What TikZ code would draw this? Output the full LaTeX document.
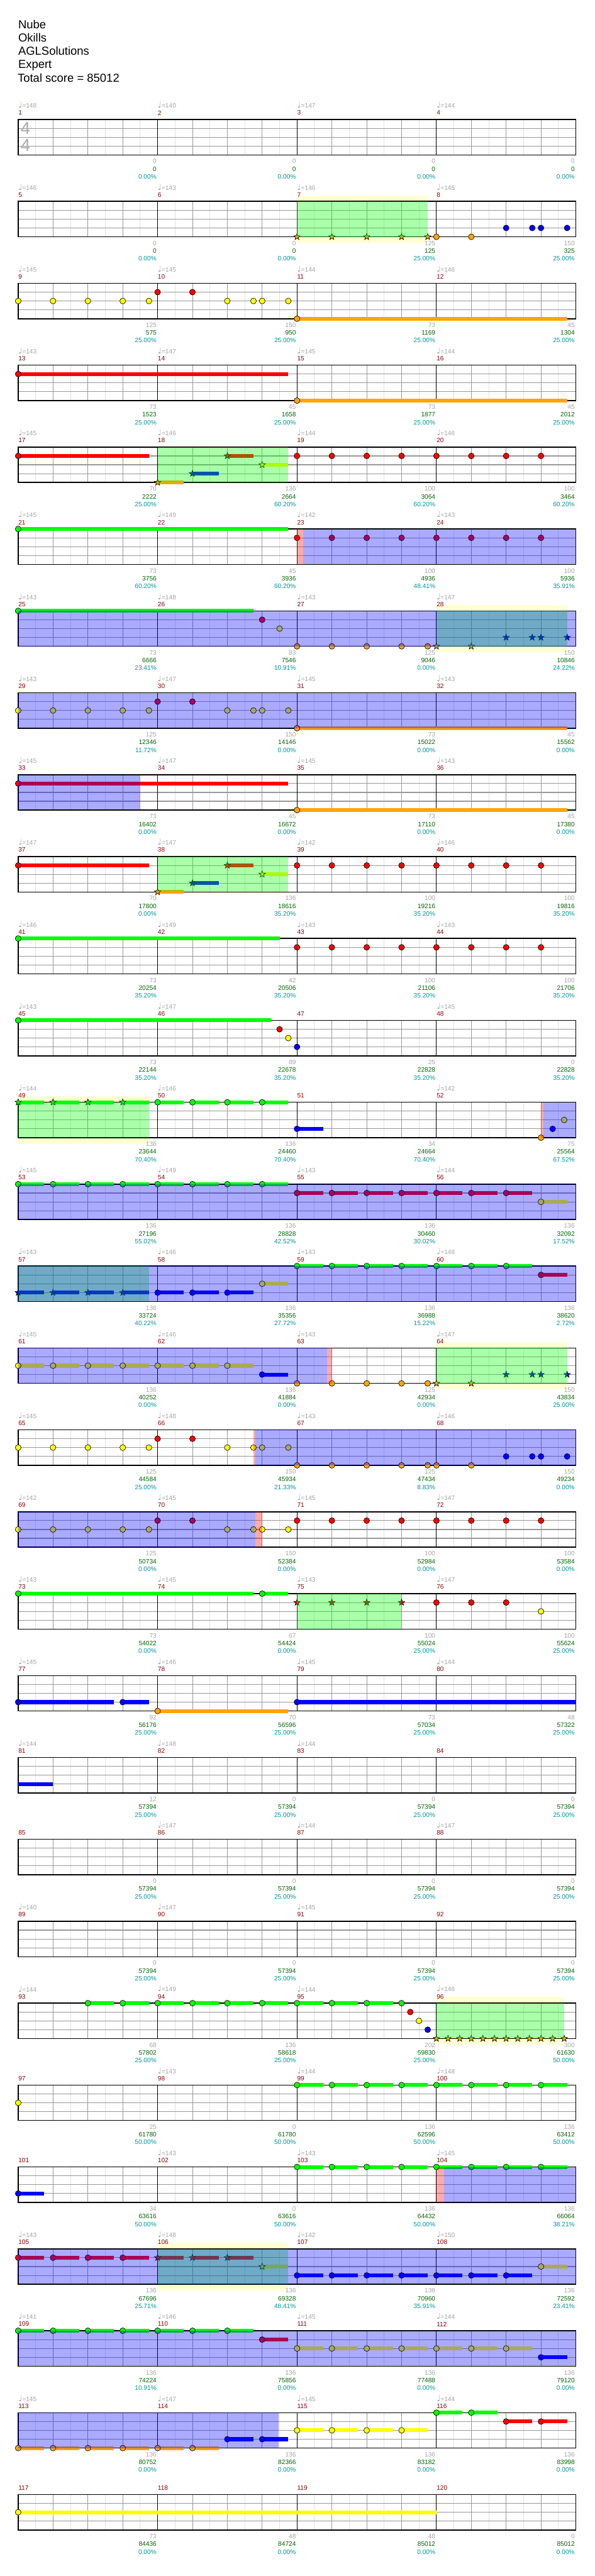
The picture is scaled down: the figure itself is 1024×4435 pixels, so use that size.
\documentclass[tikz,border=0pt]{standalone}
\usepackage{fontspec}
\setmainfont{Liberation Sans}
\newfontfamily\notefont{DejaVu Sans}
\usepackage{tikz}
\usetikzlibrary{calc}
\definecolor{lane0}{RGB}{0,255,0}
\definecolor{lane1}{RGB}{255,0,0}
\definecolor{lane2}{RGB}{255,255,0}
\definecolor{lane3}{RGB}{0,0,255}
\definecolor{lane4}{RGB}{255,165,0}
\definecolor{barred}{RGB}{140,0,0}
\definecolor{tempogrey}{RGB}{165,165,165}
\definecolor{scoregreen}{RGB}{0,100,0}
\definecolor{pctteal}{RGB}{0,150,150}
\definecolor{bandyellow}{RGB}{255,255,210}
\definecolor{finegrey}{RGB}{225,225,225}
\definecolor{midgrey}{RGB}{153,153,153}

\newcommand{\ex}[1]{31.3+30*(#1)}
\newcommand{\ny}[1]{15.25*(#1)}
\newcommand{\staff}[3]{%
  \fill[white] (31.3,0) rectangle (991.5,61);
  \foreach \i in {1,...,31}
    \draw[finegrey, line width=0.5] ({\ex{\i}},0) -- ({\ex{\i}},61);
  \foreach \k in {1,2,3}
    \draw[midgrey, line width=0.6] (31.3,{\ny{\k}}) -- (991.5,{\ny{\k}});
  \foreach \i in {2,4,...,30}
    \draw[midgrey, line width=0.5] ({\ex{\i}},0) -- ({\ex{\i}},61);
  \foreach \i in {8,16,24}
    \draw[black, line width=0.5] ({\ex{\i}},0) -- ({\ex{\i}},61);
  \draw[black, line width=0.8] (31.3,0) rectangle (991.5,61);
  \foreach \bpm [count=\mi from 0] in {#2} {
    \pgfmathtruncatemacro\mnum{4*(#1-1)+\mi+1}
    \node[barno] (bn-#1-\mi) at ({\ex{8*\mi}},-11.4) {\mnum};
    \ifnum\bpm>0
      \node[tempo] (tp-#1-\mi) at ({\ex{8*\mi}},-24.7) {{\notefont\fontsize{7}{7}\selectfont\char"2669}=\bpm};
    \fi
  }
  \foreach \gr/\sc/\pc [count=\mi] in {#3} {
    \node[hits] (gr-#1-\mi) at ({\ex{8*\mi}-1.5},72) {\gr};
    \node[total] (sc-#1-\mi) at ({\ex{8*\mi}-1.5},85.3) {\sc};
    \node[pct] (pc-#1-\mi) at ({\ex{8*\mi}-1.5},98.6) {\pc};
  }%
}
\newcommand{\nt}[2]{\filldraw[note, fill=lane#1] ({\ex{#2}},{\ny{#1}}) circle[radius=5];}
\newcommand{\st}[2]{\filldraw[note, fill=lane#1] plot[variable=\j, samples at={0,...,9}]
  ({\ex{#2}+(5.8-3.4*mod(\j,2))*cos(90+36*\j)},{\ny{#1}-(5.8-3.4*mod(\j,2))*sin(90+36*\j)}) -- cycle;}
\newcommand{\tail}[3]{\fill[lane#1] ({\ex{#2}},{\ny{#1}-3.3}) rectangle ({\ex{#3}},{\ny{#1}+3.3});}
\newcommand{\sus}[3]{\tail{#1}{#2}{#3}\nt{#1}{#2}}
\newcommand{\sst}[3]{\tail{#1}{#2}{#3}\st{#1}{#2}}
\newcommand{\band}[2]{\fill[bandyellow] ({\ex{#1}},-10.5) rectangle ({\ex{#2}},71.5);}
\newcommand{\spow}[2]{\fill[lane0, opacity=0.333] ({\ex{#1}},0) rectangle ({\ex{#2}},61);}
\newcommand{\act}[2]{\fill[lane3, opacity=0.333] ({\ex{#1}},0) rectangle ({\ex{#2}},61);}
\newcommand{\hit}[2]{\fill[lane1, opacity=0.333] ({\ex{#1}},0) rectangle ({\ex{#2}},61);}

\begin{document}
\begin{tikzpicture}[x=0.5pt, y=-0.5pt,
    sysrow/.style={shift={(0,{205.7+141*(#1-1)})}},
    head/.style={anchor=base west, inner sep=0, font=\fontsize{10}{12}\selectfont},
    small/.style={inner sep=0, font=\fontsize{5.5}{6}\selectfont},
    barno/.style={small, anchor=west, text=barred},
    tempo/.style={small, anchor=west, text=tempogrey},
    hits/.style={small, anchor=east, text=tempogrey},
    total/.style={small, anchor=east, text=scoregreen},
    pct/.style={small, anchor=east, text=pctteal},
    note/.style={draw=black, line width=0.35},
    timesig/.style={inner sep=0, text=black!33, font=\fontsize{15}{15}\selectfont}
  ]
  \useasboundingbox (0,0) rectangle (1024,4435);
  \node[head] (song) at (31,49) {Nube};
  \node[head] (artist) at (31,72) {Okills};
  \node[head] (charter) at (31,95) {AGLSolutions};
  \node[head] (level) at (31,118) {Expert};
  \node[head] (score) at (30,141) {Total score = 85012};

  \begin{scope}[sysrow=1]
    \staff{1}{148,140,147,144}{0/0/0.00\%,0/0/0.00\%,0/0/0.00\%,0/0/0.00\%}
    \node[timesig] (ts-up) at (44,15.5) {4};
    \node[timesig] (ts-lo) at (44,44.5) {4};
  \end{scope}

  \begin{scope}[sysrow=2]
    \band{16}{23.5}
    \staff{2}{146,143,146,145}{0/0/0.00\%,0/0/0.00\%,125/125/25.00\%,150/325/25.00\%}
    \foreach \e in {16,18,20,22,23.5} {\st{4}{\e}}
    \nt{4}{24}\nt{4}{26}
    \foreach \e in {28,29.5,30,31.5} {\nt{3}{\e}}
    \spow{16}{23.5}
  \end{scope}

  \begin{scope}[sysrow=3]
    \staff{3}{145,145,144,146}{125/575/25.00\%,150/950/25.00\%,73/1169/25.00\%,45/1304/25.00\%}
    \foreach \e in {0,2,4,6,7.5,12,13.5,14,15.5} {\nt{2}{\e}}
    \nt{1}{8}\nt{1}{10}
    \sus{4}{16}{31.5}
  \end{scope}

  \begin{scope}[sysrow=4]
    \staff{4}{143,147,145,144}{73/1523/25.00\%,45/1658/25.00\%,73/1877/25.00\%,45/2012/25.00\%}
    \sus{1}{0}{15.5}
    \sus{4}{16}{31.5}
  \end{scope}

  \begin{scope}[sysrow=5]
    \staff{5}{145,146,144,146}{70/2222/25.00\%,136/2664/60.20\%,100/3064/60.20\%,100/3464/60.20\%}
    \sus{1}{0}{7.5}
    \sst{1}{12}{13.5}\sst{2}{14}{15.5}\sst{3}{10}{11.5}\sst{4}{8}{9.5}
    \foreach \e in {16,18,...,30} {\nt{1}{\e}}
    \spow{8}{15.5}
  \end{scope}

  \begin{scope}[sysrow=6]
    \staff{6}{145,149,142,143}{73/3756/60.20\%,45/3936/60.20\%,100/4936/48.41\%,100/5936/35.91\%}
    \sus{0}{0}{15.5}
    \foreach \e in {16,18,...,30} {\nt{1}{\e}}
    \hit{16}{16.37}\act{16.37}{32}
  \end{scope}

  \begin{scope}[sysrow=7]
    \band{24}{31.5}
    \staff{7}{143,148,143,147}{73/6666/23.41\%,83/7546/10.91\%,125/9046/0.00\%,150/10846/24.22\%}
    \sus{0}{0}{13.5}
    \nt{1}{14}\nt{2}{15}
    \foreach \e in {16,18,20,22,23.5} {\nt{4}{\e}}
    \st{4}{24}\st{4}{26}
    \foreach \e in {28,29.5,30,31.5} {\st{3}{\e}}
    \spow{24}{31.5}\act{0}{32}
  \end{scope}

  \begin{scope}[sysrow=8]
    \staff{8}{143,147,145,143}{125/12346/11.72\%,150/14146/0.00\%,73/15022/0.00\%,45/15562/0.00\%}
    \foreach \e in {0,2,4,6,7.5,12,13.5,14,15.5} {\nt{2}{\e}}
    \nt{1}{8}\nt{1}{10}
    \sus{4}{16}{31.5}
    \act{0}{32}
  \end{scope}

  \begin{scope}[sysrow=9]
    \staff{9}{145,147,145,143}{73/16402/0.00\%,45/16672/0.00\%,73/17110/0.00\%,45/17380/0.00\%}
    \sus{1}{0}{15.5}
    \sus{4}{16}{31.5}
    \act{0}{7}
  \end{scope}

  \begin{scope}[sysrow=10]
    \staff{10}{147,147,142,146}{70/17800/0.00\%,136/18616/35.20\%,100/19216/35.20\%,100/19816/35.20\%}
    \sus{1}{0}{7.5}
    \sst{1}{12}{13.5}\sst{2}{14}{15.5}\sst{3}{10}{11.5}\sst{4}{8}{9.5}
    \foreach \e in {16,18,...,30} {\nt{1}{\e}}
    \spow{8}{15.5}
  \end{scope}

  \begin{scope}[sysrow=11]
    \staff{11}{146,149,143,143}{73/20254/35.20\%,42/20506/35.20\%,100/21106/35.20\%,100/21706/35.20\%}
    \sus{0}{0}{15}
    \foreach \e in {16,18,...,30} {\nt{1}{\e}}
  \end{scope}

  \begin{scope}[sysrow=12]
    \staff{12}{143,147,0,145}{73/22144/35.20\%,89/22678/35.20\%,25/22828/35.20\%,0/22828/35.20\%}
    \sus{0}{0}{14.5}
    \nt{1}{15}\nt{2}{15.5}\nt{3}{16}
  \end{scope}

  \begin{scope}[sysrow=13]
    \band{0}{7.5}
    \staff{13}{144,146,0,142}{136/23644/70.40\%,136/24460/70.40\%,34/24664/70.40\%,75/25564/67.52\%}
    \foreach \e in {0,2,4,6} {\sst{0}{\e}{\e+1.5}}
    \foreach \e in {8,10,12,14} {\sus{0}{\e}{\e+1.5}}
    \sus{3}{16}{17.5}
    \nt{4}{30}\nt{3}{30.67}\nt{2}{31.33}
    \spow{0}{7.5}\hit{30}{30.15}\act{30.15}{32}
  \end{scope}

  \begin{scope}[sysrow=14]
    \staff{14}{145,149,143,144}{136/27196/55.02\%,136/28828/42.52\%,136/30460/30.02\%,136/32092/17.52\%}
    \foreach \e in {0,2,...,14} {\sus{0}{\e}{\e+1.5}}
    \foreach \e in {16,18,...,28} {\sus{1}{\e}{\e+1.5}}
    \sus{2}{30}{31.5}
    \act{0}{32}
  \end{scope}

  \begin{scope}[sysrow=15]
    \staff{15}{143,146,143,148}{136/33724/40.22\%,136/35356/27.72\%,136/36988/15.22\%,136/38620/2.72\%}
    \foreach \e in {0,2,4,6} {\sst{3}{\e}{\e+1.5}}
    \foreach \e in {8,10,12} {\sus{3}{\e}{\e+1.5}}
    \sus{2}{14}{15.5}
    \foreach \e in {16,18,...,28} {\sus{0}{\e}{\e+1.5}}
    \sus{1}{30}{31.5}
    \spow{0}{7.5}\act{0}{32}
  \end{scope}

  \begin{scope}[sysrow=16]
    \band{24}{31.5}
    \staff{16}{145,146,143,147}{136/40252/0.00\%,136/41884/0.00\%,125/42934/0.00\%,150/43834/25.00\%}
    \foreach \e in {0,2,...,12} {\sus{2}{\e}{\e+1.5}}
    \sus{3}{14}{15.5}
    \foreach \e in {16,18,20,22,23.5} {\nt{4}{\e}}
    \st{4}{24}\st{4}{26}
    \foreach \e in {28,29.5,30,31.5} {\st{3}{\e}}
    \spow{24}{31.5}\act{0}{17.72}\hit{17.72}{18}
  \end{scope}

  \begin{scope}[sysrow=17]
    \staff{17}{145,148,143,146}{125/44584/25.00\%,150/45934/21.33\%,125/47434/8.83\%,150/49234/0.00\%}
    \foreach \e in {0,2,4,6,7.5,12,13.5,14,15.5} {\nt{2}{\e}}
    \nt{1}{8}\nt{1}{10}
    \foreach \e in {16,18,20,22,23.5,24,26} {\nt{4}{\e}}
    \foreach \e in {28,29.5,30,31.5} {\nt{3}{\e}}
    \hit{13.5}{13.62}\act{13.62}{32}
  \end{scope}

  \begin{scope}[sysrow=18]
    \staff{18}{142,145,145,147}{125/50734/0.00\%,150/52384/0.00\%,100/52984/0.00\%,100/53584/0.00\%}
    \foreach \e in {0,2,4,6,7.5,12,13.5,14,15.5} {\nt{2}{\e}}
    \nt{1}{8}\nt{1}{10}
    \foreach \e in {16,18,...,30} {\nt{1}{\e}}
    \act{0}{13.62}\hit{13.62}{14}
  \end{scope}

  \begin{scope}[sysrow=19]
    \staff{19}{143,145,143,147}{73/54022/0.00\%,67/54424/0.00\%,100/55024/25.00\%,100/55624/25.00\%}
    \sus{0}{0}{13.5}\sus{0}{14}{15.5}
    \foreach \e in {16,18,20,22} {\st{1}{\e}}
    \foreach \e in {24,26,28} {\nt{1}{\e}}
    \nt{2}{30}
    \spow{16}{22}
  \end{scope}

  \begin{scope}[sysrow=20]
    \staff{20}{145,146,145,144}{92/56176/25.00\%,70/56596/25.00\%,73/57034/25.00\%,48/57322/25.00\%}
    \sus{3}{0}{5.5}\sus{3}{6}{7.5}
    \sus{4}{8}{15.5}
    \sus{3}{16}{32}
  \end{scope}

  \begin{scope}[sysrow=21]
    \staff{21}{144,148,144,0}{12/57394/25.00\%,0/57394/25.00\%,0/57394/25.00\%,0/57394/25.00\%}
    \tail{3}{0}{2}
  \end{scope}

  \begin{scope}[sysrow=22]
    \staff{22}{0,147,144,147}{0/57394/25.00\%,0/57394/25.00\%,0/57394/25.00\%,0/57394/25.00\%}
  \end{scope}

  \begin{scope}[sysrow=23]
    \staff{23}{140,147,145,0}{0/57394/25.00\%,0/57394/25.00\%,0/57394/25.00\%,0/57394/25.00\%}
  \end{scope}

  \begin{scope}[sysrow=24]
    \band{24}{31.33}
    \staff{24}{144,149,144,146}{68/57802/25.00\%,136/58618/25.00\%,202/59830/25.00\%,300/61630/50.00\%}
    \foreach \e in {4,6,...,20} {\sus{0}{\e}{\e+1.5}}
    \nt{0}{22}\nt{1}{22.5}\nt{2}{23}\nt{3}{23.5}
    \foreach \i in {0,...,11} {\st{4}{24+2*\i/3}}
    \spow{24}{31.33}
  \end{scope}

  \begin{scope}[sysrow=25]
    \staff{25}{0,143,144,148}{25/61780/50.00\%,0/61780/50.00\%,136/62596/50.00\%,136/63412/50.00\%}
    \nt{2}{0}
    \foreach \e in {16,18,...,30} {\sus{0}{\e}{\e+1.5}}
  \end{scope}

  \begin{scope}[sysrow=26]
    \staff{26}{0,143,143,145}{34/63616/50.00\%,0/63616/50.00\%,136/64432/50.00\%,136/66064/38.21\%}
    \sus{3}{0}{1.5}
    \foreach \e in {16,18,...,30} {\sus{0}{\e}{\e+1.5}}
    \hit{24}{24.43}\act{24.43}{32}
  \end{scope}

  \begin{scope}[sysrow=27]
    \band{8}{15.5}
    \staff{27}{143,148,142,150}{136/67696/25.71\%,136/69328/48.41\%,136/70960/35.91\%,136/72592/23.41\%}
    \foreach \e in {0,2,4,6} {\sus{1}{\e}{\e+1.5}}
    \foreach \e in {8,10,12} {\sst{1}{\e}{\e+1.5}}
    \sst{2}{14}{15.5}
    \foreach \e in {16,18,...,28} {\sus{3}{\e}{\e+1.5}}
    \sus{2}{30}{31.5}
    \spow{8}{15.5}\act{0}{32}
  \end{scope}

  \begin{scope}[sysrow=28]
    \staff{28}{141,146,145,144}{136/74224/10.91\%,136/75856/0.00\%,136/77488/0.00\%,136/79120/0.00\%}
    \foreach \e in {0,2,...,12} {\sus{0}{\e}{\e+1.5}}
    \sus{1}{14}{15.5}
    \foreach \e in {16,18,...,28} {\sus{2}{\e}{\e+1.5}}
    \sus{3}{30}{31.5}
    \act{0}{32}
  \end{scope}

  \begin{scope}[sysrow=29]
    \staff{29}{145,147,145,144}{136/80752/0.00\%,136/82366/0.00\%,136/83182/0.00\%,136/83998/0.00\%}
    \foreach \e in {0,2,...,10} {\sus{4}{\e}{\e+1.5}}
    \sus{3}{12}{13.5}\sus{3}{14}{15.5}
    \foreach \e in {16,18,20,22} {\sus{2}{\e}{\e+1.5}}
    \sus{0}{24}{25.5}\sus{0}{26}{27.5}
    \sus{1}{28}{29.5}\sus{1}{30}{31.5}
    \act{0}{14.95}
  \end{scope}

  \begin{scope}[sysrow=30]
    \staff{30}{0,0,0,0}{73/84436/0.00\%,48/84724/0.00\%,48/85012/0.00\%,0/85012/0.00\%}
    \sus{2}{0}{24}
  \end{scope}
\end{tikzpicture}
\end{document}
